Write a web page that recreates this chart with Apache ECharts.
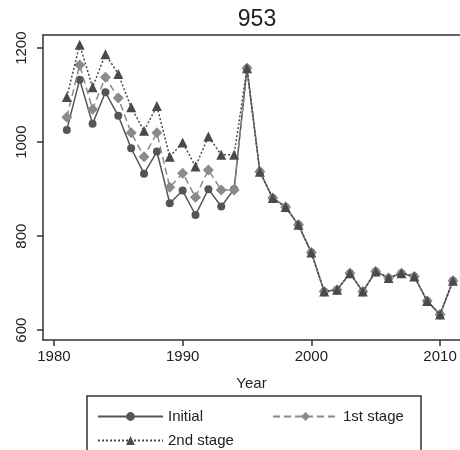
<!DOCTYPE html>
<html>
<head>
<meta charset="utf-8">
<script src="https://cdn.jsdelivr.net/npm/echarts@6/dist/echarts.min.js"></script>
<style>html,body{margin:0;padding:0;background:#fff}#c{width:460px;height:450px}</style>
</head>
<body>
<div id="c"></div>
<script>
var years = [1981,1982,1983,1984,1985,1986,1987,1988,1989,1990,1991,1992,1993,1994,1995,1996,1997,1998,1999,2000,2001,2002,2003,2004,2005,2006,2007,2008,2009,2010,2011];
var initial = [1026,1133,1039,1106,1056,987,933,980,870,897,845,900,863,900,1157,937,881,862,824,765,682,686,721,682,725,711,721,714,662,633,705];
var stage1 = [1053,1164,1070,1138,1094,1020,969,1020,904,934,883,941,898,898,1157,937,881,862,824,765,682,686,721,682,725,711,721,714,662,633,705];
var stage2 = [1096,1207,1117,1187,1145,1074,1024,1077,969,999,948,1012,973,973,1157,937,881,862,824,765,682,686,721,682,725,711,721,714,662,633,705];
var xTicks = [1980,1990,2000,2010];
var yTicks = [600,800,1000,1200];
var seriesNames = ['Initial','1st stage','2nd stage'];

function pairs(v){ return years.map(function(y,i){ return [y, v[i]]; }); }
function plain(v){ return String(Math.round(v)); }
var font = 'Liberation Sans, Arial, sans-serif';
var chart = echarts.init(document.getElementById('c'), null, {renderer:'canvas'});
var legendBase = {
  orient:'horizontal', itemWidth:65, itemHeight:11, itemGap:0,
  textStyle:{fontFamily:font, fontSize:15, color:'#222'},
  inactiveColor:'#ccc'
};
chart.setOption({
  animation:false,
  title:{text:'953', left:252, top:3, textAlign:'center',
    textStyle:{fontFamily:font, fontSize:23, fontWeight:'normal', color:'#222'}},
  grid:{left:43, right:0, top:35, bottom:110, containLabel:false},
  xAxis:[{
    type:'value', min:1979.15, max:2011.55,
    name:'Year', nameLocation:'middle', nameGap:36,
    nameTextStyle:{fontFamily:font, fontSize:15, color:'#222'},
    axisLine:{lineStyle:{color:'#333', width:1.5}},
    axisTick:{show:true, length:6, customValues:xTicks, lineStyle:{color:'#333', width:1.5}},
    axisLabel:{customValues:xTicks, formatter:plain, margin:9, fontFamily:font, fontSize:15, color:'#222'},
    splitLine:{show:false}
  },{
    type:'value', position:'top', min:1979.15, max:2011.55,
    axisLine:{show:true, lineStyle:{color:'#333', width:1.5}},
    axisTick:{show:false}, axisLabel:{show:false}, splitLine:{show:false}
  }],
  yAxis:{
    type:'value', min:579, max:1228,
    axisLine:{show:true, lineStyle:{color:'#333', width:1.5}},
    axisTick:{show:true, length:6, customValues:yTicks, lineStyle:{color:'#333', width:1.5}},
    axisLabel:{customValues:yTicks, formatter:plain, rotate:90, margin:14, fontFamily:font, fontSize:15, color:'#222'},
    splitLine:{show:false}
  },
  legend:[
    Object.assign({}, legendBase, {data:[seriesNames[0]], left:92, top:404}),
    Object.assign({}, legendBase, {data:[seriesNames[1]], left:267, top:404}),
    Object.assign({}, legendBase, {data:[seriesNames[2]], left:92, top:428})
  ],
  graphic:[{type:'rect', shape:{x:87, y:396, width:334, height:80},
    style:{fill:'none', stroke:'#333', lineWidth:1.5}, silent:true}],
  series:[
    {name:seriesNames[0], type:'line', data:pairs(initial), symbol:'circle', symbolSize:8,
      itemStyle:{color:'#555'}, lineStyle:{color:'#555', width:1.5, type:'solid'}, z:2},
    {name:seriesNames[1], type:'line', data:pairs(stage1), symbol:'diamond', symbolSize:11,
      itemStyle:{color:'#8a8a8a'}, lineStyle:{color:'#8a8a8a', width:1.5, type:[7,4]}, z:3},
    {name:seriesNames[2], type:'line', data:pairs(stage2), symbol:'triangle', symbolSize:10,
      itemStyle:{color:'#4a4a4a'}, lineStyle:{color:'#4a4a4a', width:1.5, type:[2,2]}, z:4}
  ]
});
</script>
</body>
</html>
